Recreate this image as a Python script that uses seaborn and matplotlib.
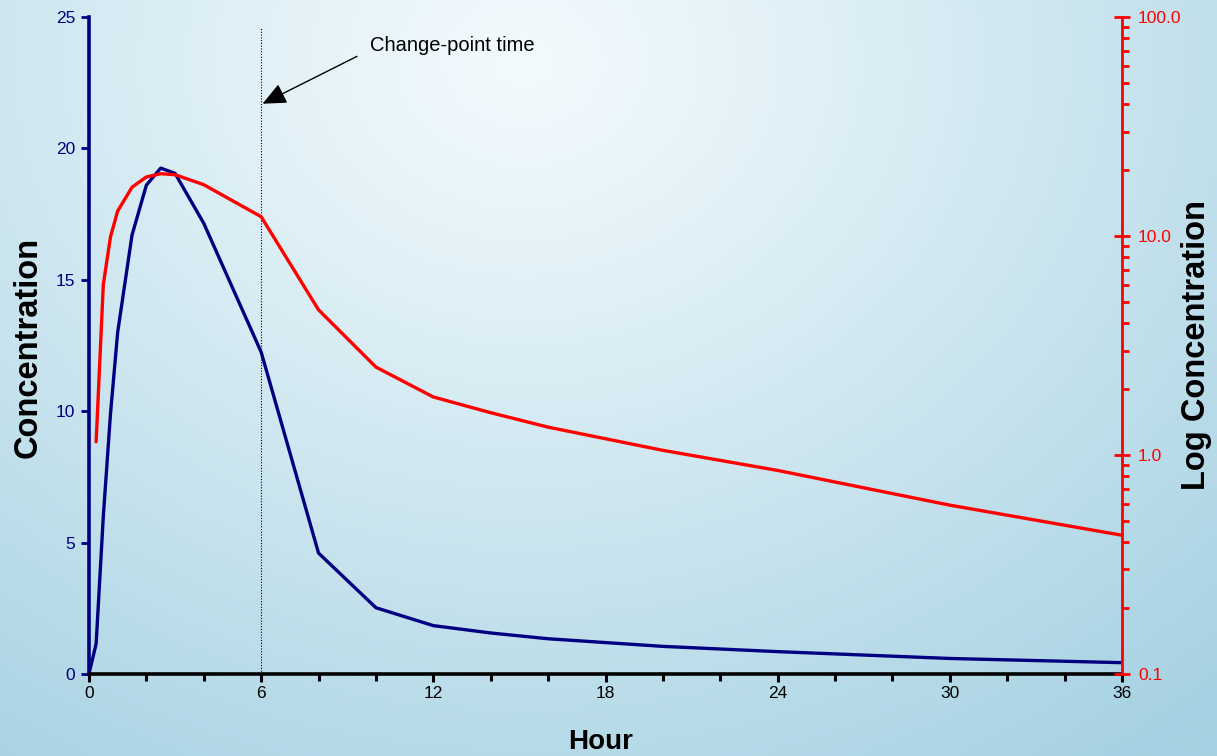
import numpy as np
import pandas as pd
import matplotlib
matplotlib.use("Agg")
import matplotlib.pyplot as plt
import seaborn as sns
from matplotlib.ticker import MultipleLocator, FormatStrFormatter, NullFormatter, LogLocator

# ---- data ----
hours = [0, 0.25, 0.5, 0.75, 1, 1.5, 2, 2.5, 3, 4, 6, 8, 10, 12, 14, 16, 20, 24, 30, 36]
conc = [0, 1.15, 6.0, 9.9, 13.0, 16.7, 18.6, 19.25, 19.05, 17.15, 12.25,
        4.6, 2.52, 1.84, 1.56, 1.34, 1.05, 0.85, 0.59, 0.43]
change_point = 6

df = pd.DataFrame({"hour": hours, "conc": conc})
df_log = df[df["hour"] > 0]

NAVY = "#000080"
RED = "#ff0000"

sns.set_style("ticks")
plt.rcParams["font.family"] = ["Liberation Sans", "DejaVu Sans"]

fig = plt.figure(figsize=(12.17, 7.56), dpi=100)

# background gradient (pale centre, light blue edges)
bg = fig.add_axes([0, 0, 1, 1], zorder=-10)
yy, xx = np.mgrid[0:1:300j, 0:1:480j]
r = np.sqrt(((xx - 0.43) / 0.85) ** 2 + ((yy - 0.08) / 1.15) ** 2)
r = np.clip(r, 0, 1) ** 1.1
c0 = np.array([243, 250, 253]) / 255
c1 = np.array([165, 209, 226]) / 255
img = c0[None, None, :] * (1 - r[..., None]) + c1[None, None, :] * r[..., None]
bg.imshow(img, aspect="auto", extent=[0, 1, 0, 1], origin="upper")
bg.axis("off")

ax = fig.add_axes([0.0731, 0.1085, 0.922 - 0.0731, 0.9775 - 0.1085])
ax.set_facecolor("none")

sns.lineplot(data=df, x="hour", y="conc", ax=ax, color=NAVY, lw=2.4, sort=False)

ax.set_xlim(0, 36)
ax.set_ylim(0, 25)
ax.xaxis.set_major_locator(MultipleLocator(6))
ax.xaxis.set_minor_locator(MultipleLocator(2))
ax.yaxis.set_major_locator(MultipleLocator(5))

ax.tick_params(axis="x", which="both", direction="out", colors="black",
               width=2.2, labelsize=12.5, pad=3)
ax.tick_params(axis="x", which="major", length=6)
ax.tick_params(axis="x", which="minor", length=5)
ax.tick_params(axis="y", which="major", direction="out", length=6, width=2,
               colors=NAVY, labelcolor=NAVY, labelsize=12.5, pad=4)

for s in ["top", "right"]:
    ax.spines[s].set_visible(False)
ax.spines["left"].set_color(NAVY)
ax.spines["left"].set_linewidth(2.6)
ax.spines["bottom"].set_color("black")
ax.spines["bottom"].set_linewidth(2.6)

ax.set_xlabel("")
ax.set_ylabel("")

# change-point marker
ax.vlines(change_point, 0, 24.6, colors="black", linestyles=(0, (1, 1.5)), lw=0.8)
ax.annotate("Change-point time", xy=(change_point + 0.05, 21.7), xytext=(9.8, 23.9),
            fontsize=14.5, ha="left", va="center", color="black",
            arrowprops=dict(arrowstyle="-|>,head_length=1.0,head_width=0.45",
                            color="black", lw=1, relpos=(0, 0.3), shrinkA=8, shrinkB=0))

# log axis
ax2 = ax.twinx()
sns.lineplot(data=df_log, x="hour", y="conc", ax=ax2, color=RED, lw=2.4, sort=False)
ax2.set_yscale("log")
ax2.set_ylim(0.1, 100)
ax2.set_xlim(0, 36)
ax2.yaxis.set_major_locator(LogLocator(base=10, numticks=10))
ax2.yaxis.set_minor_locator(LogLocator(base=10, subs=np.arange(2, 10), numticks=10))
ax2.yaxis.set_major_formatter(FormatStrFormatter("%.1f"))
ax2.yaxis.set_minor_formatter(NullFormatter())
ax2.tick_params(axis="y", which="major", direction="inout", length=11, width=2,
                colors=RED, labelcolor=RED, labelsize=12.5, pad=6)
ax2.tick_params(axis="y", which="minor", direction="out", length=5, width=2, colors=RED)
for s in ["top", "left", "bottom"]:
    ax2.spines[s].set_visible(False)
ax2.spines["right"].set_color(RED)
ax2.spines["right"].set_linewidth(2)
ax2.set_ylabel("")
ax2.set_xlabel("")

# axis titles
fig.text(28 / 1217, 1 - 347 / 756, "Concentration", rotation=90, ha="center",
         va="center", fontsize=23.5, fontweight="bold", color="black")
fig.text(1197 / 1217, 1 - 345 / 756, "Log Concentration", rotation=90, ha="center",
         va="center", fontsize=23.5, fontweight="bold", color="black")
fig.text(601 / 1217, 1 - 742 / 756, "Hour", ha="center", va="center",
         fontsize=20, fontweight="bold", color="black")

fig.savefig("out.png", dpi=100)
